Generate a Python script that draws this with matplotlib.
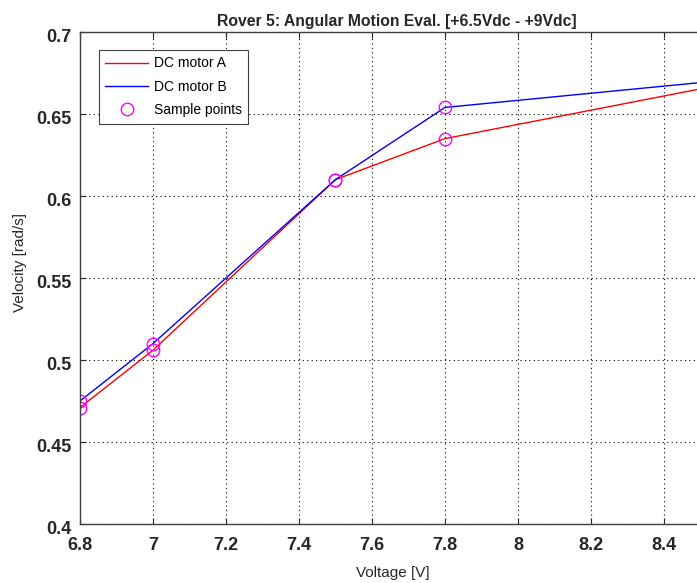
import matplotlib

matplotlib.use("Agg")
import matplotlib.pyplot as plt
from matplotlib.ticker import FuncFormatter
from matplotlib.transforms import ScaledTranslation

plt.rcParams["font.family"] = ["Liberation Sans", "DejaVu Sans"]

voltage = [6.8, 7.0, 7.5, 7.8, 9.0]
motor_a = [0.471, 0.506, 0.610, 0.635, 0.687]
motor_b = [0.475, 0.510, 0.610, 0.654, 0.680]
x_ticks = [6.8, 7.0, 7.2, 7.4, 7.6, 7.8, 8.0, 8.2, 8.4, 8.6, 8.8, 9.0]
y_ticks = [0.4, 0.45, 0.5, 0.55, 0.6, 0.65, 0.7]

fig = plt.figure(figsize=(6.97, 5.83), dpi=100)
# axes run past the right edge, the reference image is cropped there
ax = fig.add_axes([0.1148, 0.1012, 1.152, 0.8439])

ax.plot(voltage, motor_a, color="red", lw=1.0, label="DC motor A")
ax.plot(voltage, motor_b, color="blue", lw=1.0, label="DC motor B")
ax.plot(voltage + voltage, motor_a + motor_b, ls="none", marker="o", ms=9,
        mfc="none", mec="magenta", mew=1.0, label="Sample points")

ax.set_xlim(6.8, 9.0)
ax.set_ylim(0.4, 0.7)
ax.set_xticks(x_ticks)
ax.set_yticks(y_ticks)
# labels past 8.4 fall outside the cropped picture
ax.xaxis.set_major_formatter(FuncFormatter(lambda v, _: f"{v:g}" if v < 8.5 else ""))
ax.yaxis.set_major_formatter(FuncFormatter(lambda v, _: f"{v:g}"))
ax.tick_params(direction="in", top=True, right=True, length=4, width=0.8,
               labelsize=13, colors="#262626")
ax.tick_params(axis="x", pad=9)
ax.tick_params(axis="y", pad=6)
shift = ScaledTranslation(0, -3 / 100, fig.dpi_scale_trans)
for lab in ax.get_yticklabels():
    lab.set_transform(lab.get_transform() + shift)
for lab in ax.get_xticklabels() + ax.get_yticklabels():
    lab.set_fontweight("bold")
ax.grid(True, ls=(0, (1, 3)), color="black", lw=0.8)
for sp in ax.spines.values():
    sp.set_color("#404040")
    sp.set_linewidth(1.0)

ax.set_title("Rover 5: Angular Motion Eval. [+6.5Vdc - +9Vdc]", fontsize=11.3,
             fontweight="bold", color="#262626", pad=4, x=(397 - 80) / 803)
ax.set_xlabel("Voltage [V]", fontsize=11, color="#262626")
ax.xaxis.set_label_coords((393 - 80) / 803, -0.085)
ax.set_ylabel("Velocity [rad/s]", fontsize=11, color="#262626")
ax.yaxis.set_label_coords((27 - 80) / 803, (524 - 262) / 492)

leg = ax.legend(loc="upper left", bbox_to_anchor=(0.0237, 0.963), borderaxespad=0,
                fontsize=10, fancybox=False, edgecolor="#404040", framealpha=1,
                handlelength=3.1, handletextpad=0.4, borderpad=0.45,
                labelspacing=0.68)
leg.get_frame().set_linewidth(0.8)

fig.savefig("out.png", dpi=100)
